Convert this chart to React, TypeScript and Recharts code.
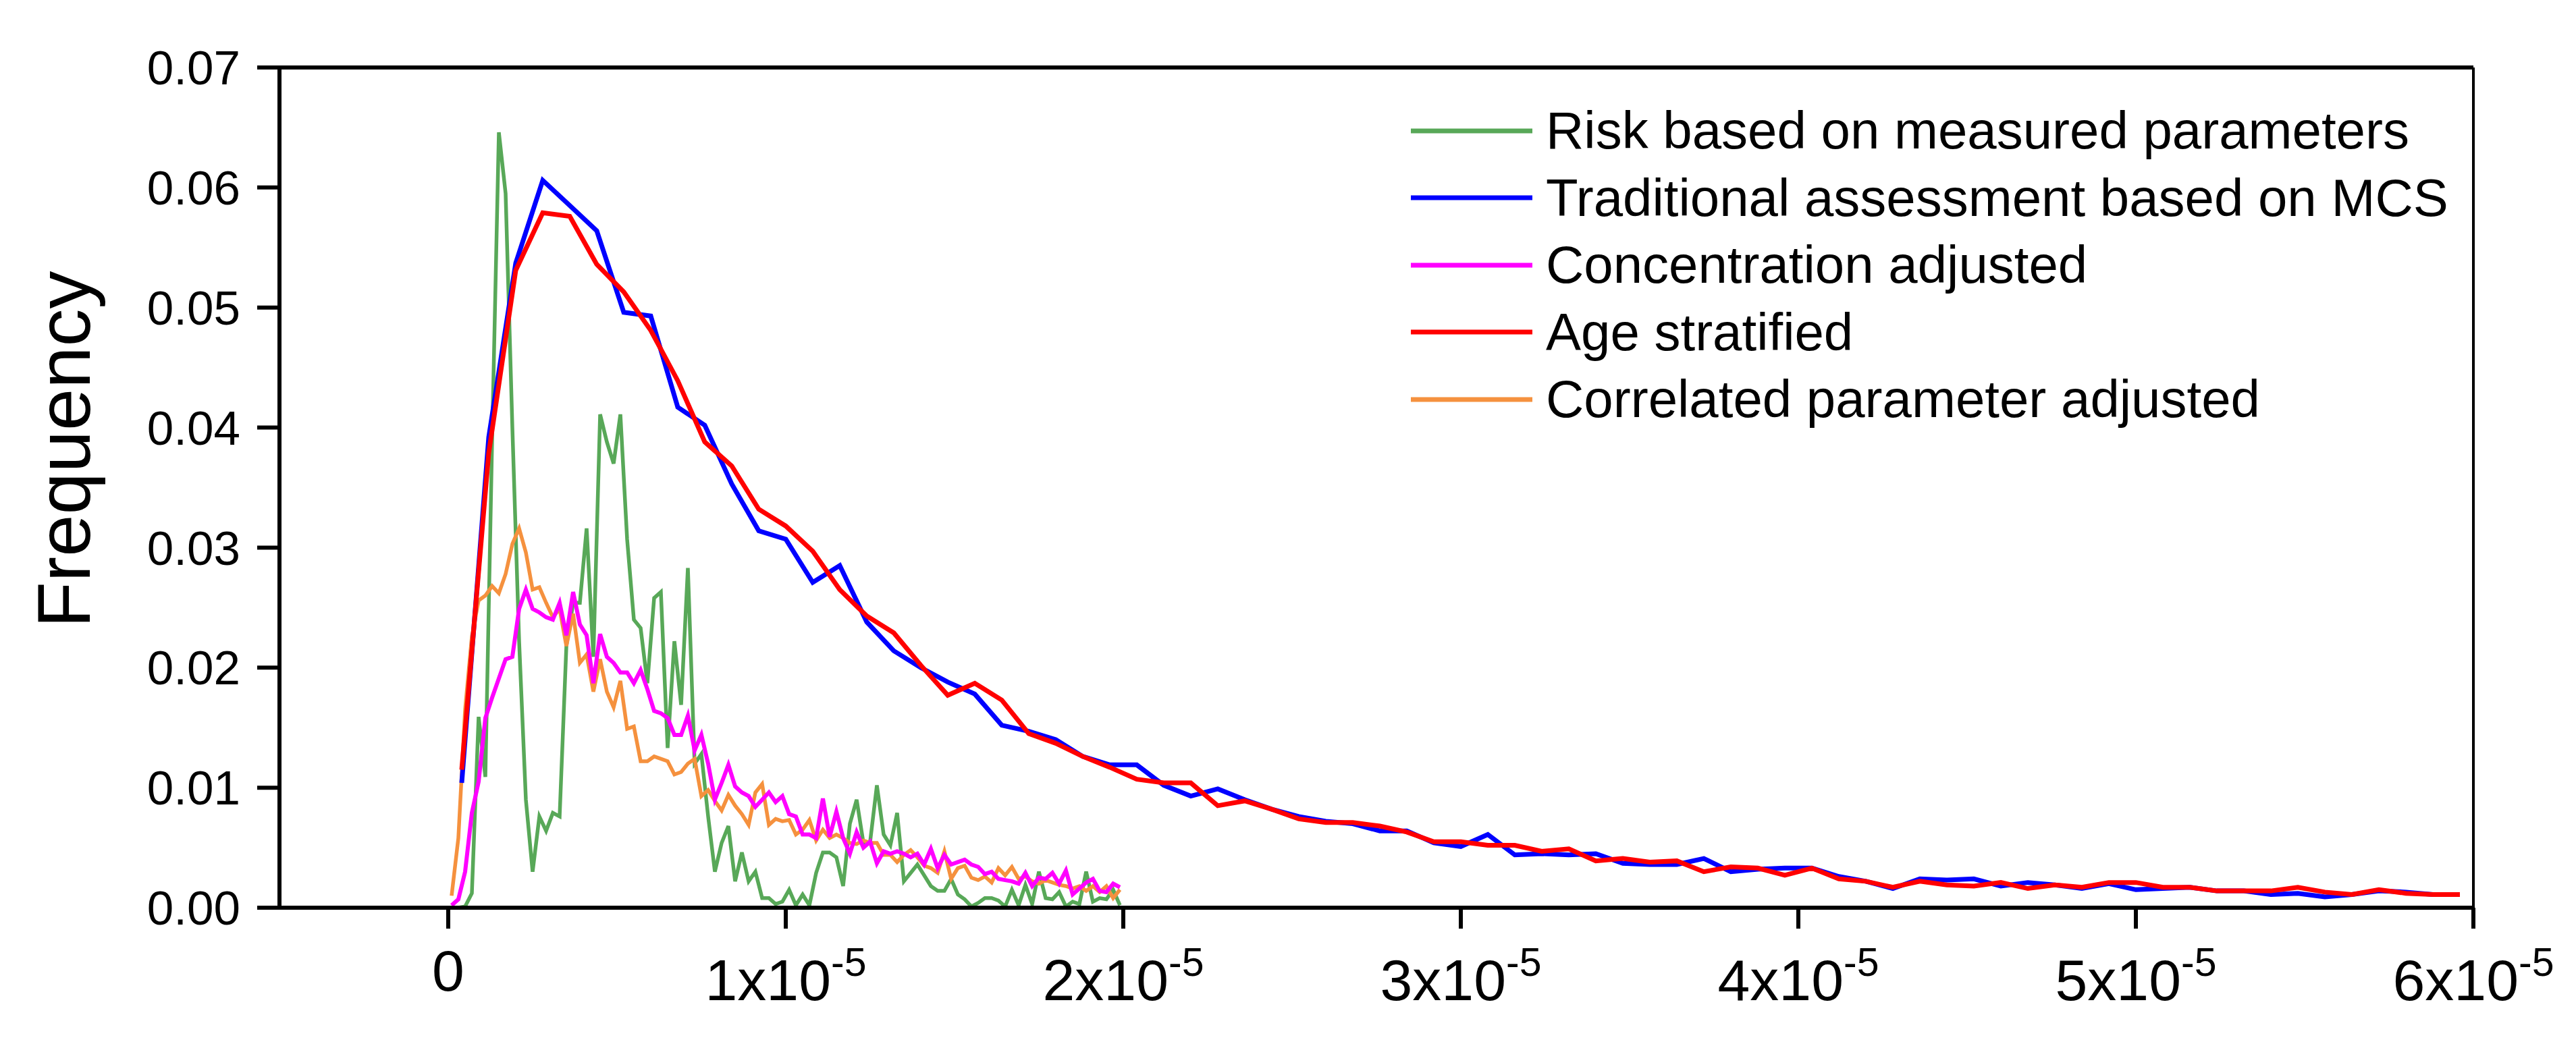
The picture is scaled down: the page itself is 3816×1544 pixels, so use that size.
import React from "react";
import { LineChart, Line, XAxis, YAxis, ReferenceLine } from "recharts";

const FONT = '"Liberation Sans", Arial, sans-serif';

// bin widths, in units of 1e-5
const COARSE_BIN = 0.08;
const FINE_BIN = 0.02;

const X_TICKS = [0, 1, 2, 3, 4, 5, 6];
const Y_TICKS = [0, 0.01, 0.02, 0.03, 0.04, 0.05, 0.06, 0.07];

// 75 bins over 0..6e-5
const traditionalMcs = [
  0.0104, 0.0392, 0.0537, 0.0606, 0.0585, 0.0564, 0.0496, 0.0493, 0.0417, 0.0402,
  0.0353, 0.0314, 0.0307, 0.0271, 0.0285, 0.0238, 0.0214, 0.02, 0.0188, 0.0178,
  0.0152, 0.0147, 0.014, 0.0126, 0.0119, 0.0119, 0.0102, 0.0093, 0.0099, 0.009,
  0.0082, 0.0076, 0.0072, 0.007, 0.0064, 0.0064, 0.0054, 0.0051, 0.0061, 0.0044,
  0.0045, 0.0044, 0.0045, 0.0037, 0.0036, 0.0036, 0.0041, 0.003, 0.0032, 0.0033,
  0.0033, 0.0026, 0.0022, 0.0016, 0.0024, 0.0023, 0.0024, 0.0018, 0.0021, 0.0019,
  0.0016, 0.002, 0.0015, 0.0016, 0.0017, 0.0014, 0.0014, 0.0011, 0.0012, 0.0009,
  0.0011, 0.0014, 0.0013, 0.0011, 0.0011,
];

const ageStratified = [
  0.0115, 0.0379, 0.0531, 0.0579, 0.0576, 0.0536, 0.0513, 0.0481, 0.0439, 0.0388,
  0.0368, 0.0332, 0.0318, 0.0297, 0.0265, 0.0243, 0.0229, 0.0202, 0.0177, 0.0187,
  0.0173, 0.0145, 0.0137, 0.0126, 0.0117, 0.0107, 0.0104, 0.0104, 0.0085, 0.0089,
  0.0082, 0.0074, 0.0071, 0.0071, 0.0068, 0.0063, 0.0055, 0.0055, 0.0052, 0.0052,
  0.0047, 0.0049, 0.0039, 0.0041, 0.0038, 0.0039, 0.003, 0.0034, 0.0033, 0.0027,
  0.0033, 0.0024, 0.0022, 0.0017, 0.0022, 0.0019, 0.0018, 0.0021, 0.0016, 0.0019,
  0.0017, 0.0021, 0.0021, 0.0017, 0.0017, 0.0014, 0.0014, 0.0014, 0.0017, 0.0013,
  0.0011, 0.0015, 0.0012, 0.0011, 0.0011,
];

// 100 bins over 0..2e-5
const measuredRisk = [
  0, 0, 0.0001, 0.0012, 0.0159, 0.0109, 0.039, 0.0646, 0.0595, 0.04,
  0.0222, 0.009, 0.003, 0.0076, 0.0064, 0.0079, 0.0076, 0.0218, 0.0254, 0.0254,
  0.0316, 0.0209, 0.0411, 0.0388, 0.037, 0.0411, 0.0307, 0.024, 0.0233, 0.0187,
  0.0258, 0.0263, 0.0133, 0.0222, 0.0169, 0.0283, 0.012, 0.0128, 0.0076, 0.003,
  0.0054, 0.0068, 0.0022, 0.0046, 0.0022, 0.003, 0.0008, 0.0008, 0.0003, 0.0005,
  0.0015, 0.0002, 0.0011, 0.0002, 0.0029, 0.0046, 0.0046, 0.0042, 0.0018, 0.007,
  0.009, 0.0054, 0.0055, 0.0102, 0.0061, 0.0052, 0.0079, 0.0022, 0.0029, 0.0036,
  0.0027, 0.0018, 0.0014, 0.0014, 0.0024, 0.0011, 0.0007, 0.0001, 0.0004, 0.0008,
  0.0008, 0.0006, 0.0001, 0.0015, 0.0002, 0.0019, 0.0003, 0.003, 0.0008, 0.0007,
  0.0013, 0.0001, 0.0005, 0.0003, 0.003, 0.0005, 0.0008, 0.0007, 0.0015, 0.0002,
];

const concentrationAdjusted = [
  0.0002, 0.0007, 0.003, 0.0079, 0.0105, 0.0158, 0.0175, 0.0191, 0.0207, 0.0209,
  0.0249, 0.0265, 0.0249, 0.0246, 0.0242, 0.024, 0.0254, 0.0227, 0.0263, 0.0236,
  0.0227, 0.0187, 0.0228, 0.0209, 0.0204, 0.0196, 0.0196, 0.0187, 0.0198, 0.0182,
  0.0164, 0.0162, 0.0158, 0.0144, 0.0144, 0.016, 0.0131, 0.0144, 0.012, 0.009,
  0.0104, 0.0119, 0.0101, 0.0096, 0.0093, 0.0084, 0.009, 0.0096, 0.0088, 0.0093,
  0.0078, 0.0076, 0.0061, 0.0061, 0.0058, 0.0091, 0.0059, 0.008, 0.0058, 0.0045,
  0.0063, 0.005, 0.0055, 0.0037, 0.0047, 0.0045, 0.0047, 0.0045, 0.0042, 0.0045,
  0.0036, 0.0049, 0.0033, 0.0044, 0.0036, 0.0038, 0.004, 0.0036, 0.0034, 0.0028,
  0.003, 0.0024, 0.0023, 0.0022, 0.002, 0.0029, 0.0018, 0.0025, 0.0024, 0.0029,
  0.002, 0.0031, 0.0011, 0.0016, 0.0021, 0.0024, 0.0014, 0.0013, 0.002, 0.0017,
];

const correlatedAdjusted = [
  0.001, 0.0058, 0.0165, 0.0226, 0.0256, 0.026, 0.0268, 0.0262, 0.0278, 0.0303,
  0.0316, 0.0296, 0.0265, 0.0267, 0.0254, 0.0242, 0.0249, 0.0218, 0.0245, 0.0204,
  0.0211, 0.018, 0.0207, 0.018, 0.0167, 0.0189, 0.0149, 0.0151, 0.0122, 0.0122,
  0.0126, 0.0124, 0.0122, 0.0111, 0.0113, 0.012, 0.0124, 0.0093, 0.0098, 0.0089,
  0.0081, 0.0094, 0.0085, 0.0078, 0.0069, 0.0096, 0.0103, 0.0069, 0.0074, 0.0072,
  0.0073, 0.0061, 0.0065, 0.0073, 0.0056, 0.0065, 0.0058, 0.0061, 0.0058, 0.0054,
  0.0053, 0.0056, 0.0054, 0.0054, 0.0044, 0.0044, 0.0038, 0.0044, 0.0048, 0.0042,
  0.0035, 0.0033, 0.0029, 0.0047, 0.0024, 0.0033, 0.0035, 0.0025, 0.0023, 0.0026,
  0.0021, 0.0033, 0.0027, 0.0034, 0.0024, 0.0026, 0.0022, 0.002, 0.0023, 0.0021,
  0.0019, 0.0018, 0.0016, 0.0018, 0.0014, 0.0018, 0.0013, 0.0018, 0.0008, 0.0015,
];

const toPoints = (values: number[], bin: number) =>
  values.map((v, i) => ({ x: (i + 0.5) * bin, y: v }));

type Series = { key: string; name: string; color: string; width: number; data: { x: number; y: number }[] };

const measured: Series = { key: "measured", name: "Risk based on measured parameters", color: "#58A858", width: 5.5, data: toPoints(measuredRisk, FINE_BIN) };
const traditional: Series = { key: "traditional", name: "Traditional assessment based on MCS", color: "#0000FF", width: 7, data: toPoints(traditionalMcs, COARSE_BIN) };
const concentration: Series = { key: "concentration", name: "Concentration adjusted", color: "#FF00FF", width: 6, data: toPoints(concentrationAdjusted, FINE_BIN) };
const age: Series = { key: "age", name: "Age stratified", color: "#FF0000", width: 7, data: toPoints(ageStratified, COARSE_BIN) };
const correlated: Series = { key: "correlated", name: "Correlated parameter adjusted", color: "#F5913E", width: 5.5, data: toPoints(correlatedAdjusted, FINE_BIN) };

const LEGEND_ORDER = [measured, traditional, concentration, age, correlated];
const DRAW_ORDER = [measured, correlated, concentration, traditional, age];

function XTick(props: any) {
  const { x, y, payload } = props;
  const v = payload.value;
  if (v === 0) {
    return (
      <text x={x} y={y + 92} textAnchor="middle" fontSize={86} fontFamily={FONT} fill="#000">
        0
      </text>
    );
  }
  return (
    <text x={x} y={y + 106} textAnchor="middle" fontSize={86} fontFamily={FONT} fill="#000">
      {`${v}x10`}
      <tspan fontSize={59} dy={-36}>-5</tspan>
    </text>
  );
}

export default function App() {
  return (
    <div style={{ position: "absolute", left: 0, top: 0, width: 3816, height: 1544, background: "#fff" }}>
      <LineChart width={3816} height={1544} margin={{ top: 100, right: 152, bottom: 0, left: 0 }}>
        <XAxis
          type="number"
          dataKey="x"
          domain={[-0.5, 6]}
          ticks={X_TICKS}
          allowDataOverflow
          height={199}
          tickSize={31}
          tickMargin={0}
          axisLine={{ stroke: "#000", strokeWidth: 6 }}
          tickLine={{ stroke: "#000", strokeWidth: 6 }}
          tick={<XTick />}
        />
        <YAxis
          type="number"
          domain={[0, 0.07]}
          ticks={Y_TICKS}
          allowDataOverflow
          width={414}
          tickSize={33}
          tickMargin={25}
          axisLine={{ stroke: "#000", strokeWidth: 6 }}
          tickLine={{ stroke: "#000", strokeWidth: 6 }}
          tickFormatter={(v: number) => v.toFixed(2)}
          tick={{ fontSize: 71, fill: "#000", fontFamily: FONT }}
          label={{
            content: () => (
              <text
                x={133}
                y={666}
                transform="rotate(-90 133 666)"
                textAnchor="middle"
                fontSize={112}
                fontFamily={FONT}
                fill="#000"
              >
                Frequency
              </text>
            ),
          }}
        />
        <ReferenceLine y={0.07} stroke="#000" strokeWidth={6} />
        <ReferenceLine x={6} stroke="#000" strokeWidth={4} />
        {DRAW_ORDER.map((s) => (
          <Line
            key={s.key}
            data={s.data}
            dataKey="y"
            name={s.name}
            type="linear"
            stroke={s.color}
            strokeWidth={s.width}
            strokeLinejoin="miter"
            dot={false}
            activeDot={false}
            isAnimationActive={false}
          />
        ))}
      </LineChart>
      <div style={{ position: "absolute", left: 2090, top: 144, fontFamily: FONT, fontSize: 78, color: "#000" }}>
        {LEGEND_ORDER.map((s) => (
          <div key={s.key} style={{ display: "flex", alignItems: "center", height: 99.5, lineHeight: "99.5px", whiteSpace: "nowrap" }}>
            <svg width={180} height={10} style={{ marginRight: 20 }}>
              <line x1={0} y1={5} x2={180} y2={5} stroke={s.color} strokeWidth={7} />
            </svg>
            <span>{s.name}</span>
          </div>
        ))}
      </div>
    </div>
  );
}
